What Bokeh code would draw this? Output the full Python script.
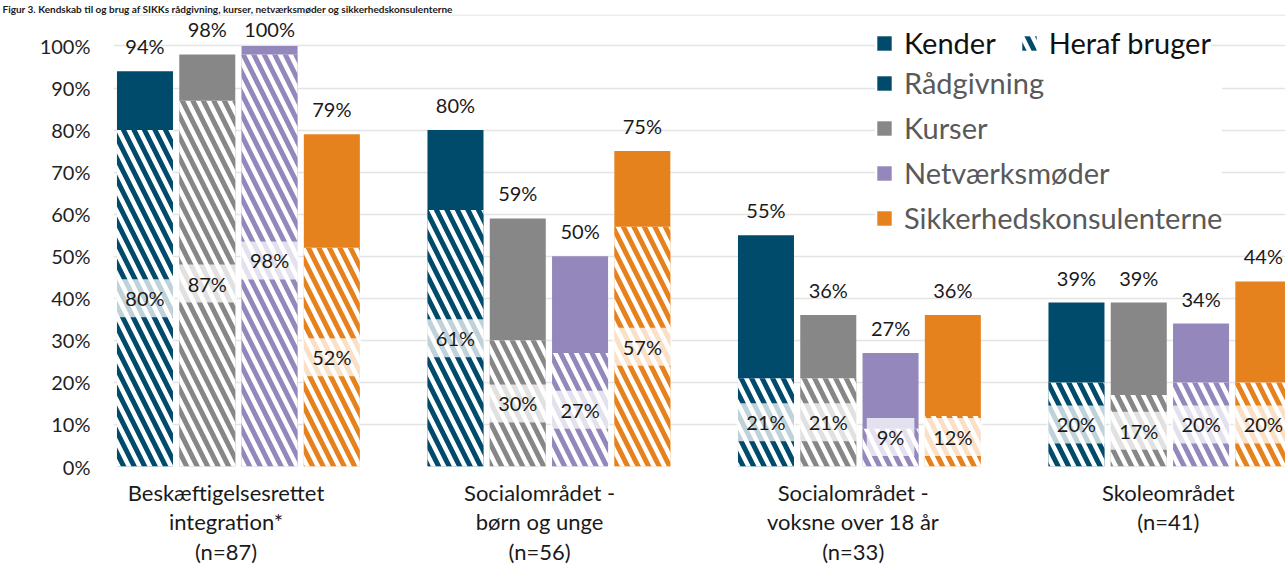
from bokeh.plotting import figure
from bokeh.models import (Range1d, FixedTicker, CustomJSTickFormatter, PrintfTickFormatter,
                          Legend, LegendItem, ColumnDataSource, Span)
from bokeh.core.properties import value
from bokeh.embed import file_html
from bokeh.resources import INLINE

# ---------------- data ----------------
title_text = ("Figur 3. Kendskab til og brug af SIKKs rådgivning, kurser, "
              "netværksmøder og sikkerhedskonsulenterne")
categories = [
    "Beskæftigelsesrettet\nintegration*\n(n=87)",
    "Socialområdet -\nbørn og unge\n(n=56)",
    "Socialområdet -\nvoksne over 18 år\n(n=33)",
    "Skoleområdet\n(n=41)",
]
services = ["Rådgivning", "Kurser", "Netværksmøder", "Sikkerhedskonsulenterne"]

kender_raadgivning = [94, 80, 55, 39]
kender_kurser = [98, 59, 36, 39]
kender_netvaerk = [100, 50, 27, 34]
kender_sikkerhed = [79, 75, 36, 44]

bruger_raadgivning = [80, 61, 21, 20]
bruger_kurser = [87, 30, 21, 17]
bruger_netvaerk = [98, 27, 9, 20]
bruger_sikkerhed = [52, 57, 12, 20]

y_ticks = [0, 10, 20, 30, 40, 50, 60, 70, 80, 90, 100]

kender_all = [kender_raadgivning, kender_kurser, kender_netvaerk, kender_sikkerhed]
bruger_all = [bruger_raadgivning, bruger_kurser, bruger_netvaerk, bruger_sikkerhed]

# ---------------- style ----------------
colors = ["#004B6B", "#878787", "#9487BB", "#E6821E"]
FONT = "Lato"
W, H = 1285, 567
X0, X1 = -0.4023, 3.3723
Y0, Y1 = 0, 107.49
bar_step = 0.2006
bar_width = 0.1804
label_pos = [-0.04, 0.97, 1.98, 2.995]   # x positions of category labels

p = figure(width=W, height=H, output_backend="svg", toolbar_location=None,
           x_range=Range1d(X0, X1), y_range=Range1d(Y0, Y1),
           min_border_left=113, min_border_right=0, min_border_top=12, min_border_bottom=100)
p.outline_line_color = None
p.background_fill_color = "white"
p.border_fill_color = "white"

# title
p.title.text = title_text
p.title.text_font = FONT
p.title.text_font_size = "10px"
p.title.text_font_style = "bold"
p.title.text_color = "#1a1a1a"
p.title.align = "left"
p.title.offset = -111
p.title.standoff = 0

solid_r, hatch_r = [], []
for j in range(4):
    xs = [i + (j - 1.5) * bar_step for i in range(4)]
    k = kender_all[j]
    b = bruger_all[j]
    src = ColumnDataSource(dict(
        x=xs, k=k, b=b,
        k_txt=[f"{v}%" for v in k],
        b_txt=[f"{v}%" for v in b],
        k_lab=[min(v, 98) for v in k],
        b_lab=[max(v / 2, 7) for v in b],
    ))
    rs = p.vbar(x="x", top="k", bottom=0, width=bar_width, source=src,
                fill_color=colors[j], line_color=None)
    rh = p.vbar(x="x", top="b", bottom=0, width=bar_width, source=src,
                fill_color="white", line_color=None,
                hatch_pattern="\\", hatch_color=colors[j], hatch_scale=21, hatch_weight=5)
    solid_r.append(rs)
    hatch_r.append(rh)
    p.text(x="x", y="k_lab", text="k_txt", source=src, y_offset=-25,
           text_align="center", text_baseline="middle",
           text_font=value(FONT), text_font_size="20px", text_color="#1a1a1a")
    p.text(x="x", y="b_lab", text="b_txt", source=src,
           text_align="center", text_baseline="middle",
           text_font=value(FONT), text_font_size="20px", text_color="#1a1a1a",
           background_fill_color="white", background_fill_alpha=0.75,
           padding=dict(left=10, right=10, top=7, bottom=7))

# axes
p.yaxis.ticker = FixedTicker(ticks=y_ticks)
p.yaxis.formatter = PrintfTickFormatter(format="%d%%")
p.yaxis.axis_line_color = None
p.yaxis.major_tick_line_color = None
p.yaxis.minor_tick_line_color = None
p.yaxis.major_tick_out = 0
p.yaxis.major_tick_in = 0
p.yaxis.major_label_standoff = 23
p.yaxis.major_label_text_font = FONT
p.yaxis.major_label_text_font_size = "20px"
p.yaxis.major_label_text_color = "#1f1f1f"

p.xaxis.ticker = FixedTicker(ticks=label_pos)
p.xaxis.formatter = CustomJSTickFormatter(args=dict(labels=categories),
                                          code="return labels[index];")
p.xaxis.axis_line_color = None
p.xaxis.major_tick_line_color = None
p.xaxis.minor_tick_line_color = None
p.xaxis.major_tick_out = 0
p.xaxis.major_tick_in = 0
p.xaxis.major_label_standoff = 12
p.xaxis.major_label_text_font = FONT
p.xaxis.major_label_text_font_size = "22px"
p.xaxis.major_label_text_line_height = 1.1
p.xaxis.major_label_text_color = "#1a1a1a"

p.xgrid.visible = False
p.ygrid.ticker = FixedTicker(ticks=y_ticks)
p.ygrid.grid_line_color = "#e4e4e4"
p.ygrid.grid_line_width = 1.5

# top edge of the chart area
p.add_layout(Span(location=Y1 - 0.12, dimension="width", line_color="#d9d9d9", line_width=1))

# legends
leg_top = Legend(items=[LegendItem(label=value("Kender"), renderers=[solid_r[0]]),
                        LegendItem(label=value("Heraf bruger"), renderers=[hatch_r[0]])],
                 orientation="horizontal", location=(762, 406))
leg_bot = Legend(items=[LegendItem(label=value(s), renderers=[solid_r[j]]) for j, s in enumerate(services)],
                 orientation="vertical", location=(762, 231))
for lg, col, sp in ((leg_top, "#111111", 24), (leg_bot, "#595959", 10)):
    lg.label_text_font = FONT
    lg.label_text_font_size = "29px"
    lg.label_text_color = col
    lg.glyph_width = 18
    lg.glyph_height = 18
    lg.label_standoff = 11
    lg.padding = 6
    lg.spacing = sp
    lg.margin = 0
    lg.border_line_color = None
    lg.background_fill_color = "white"
    lg.background_fill_alpha = 1
    p.add_layout(lg)

open("out.html", "w").write(file_html(p, INLINE))
